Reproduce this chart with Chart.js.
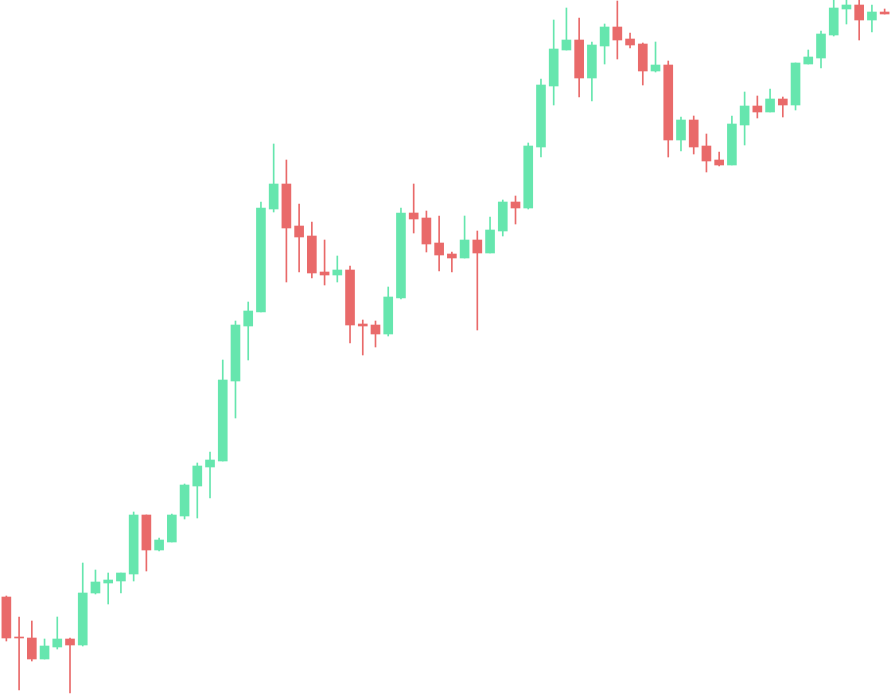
<!DOCTYPE html>
<html>
<head>
<meta charset="utf-8">
<script src="https://cdn.jsdelivr.net/npm/chart.js@4"></script>
<style>
    html, body { margin: 0; padding: 0; background: #ffffff; }
    #wrap { width: 891px; height: 694px; position: relative; }
</style>
</head>
<body>
<div id="wrap"><canvas id="candle-chart"></canvas></div>
<script>
// OHLC per session (arbitrary price units)
const opens  = [97, 57, 56, 35, 47, 55, 49, 101, 111, 113, 120, 179, 144, 152, 178, 208, 227, 233, 313, 368,
                382, 485, 510, 468, 458, 422, 419, 424, 370, 369, 360, 396, 481, 476, 451, 440, 436, 454, 441, 463,
                492, 486, 547, 608, 644, 654, 616, 648, 667, 655, 650, 623, 629, 554, 574, 548, 534, 529, 569, 588,
                582, 595, 589, 630, 636, 659, 685, 689, 674, 682];
const highs  = [98, 77, 73, 55, 77, 56, 131, 124, 121, 121, 182, 179, 156, 180, 210, 231, 242, 334, 373, 392,
                492, 550, 534, 490, 472, 454, 438, 428, 374, 373, 407, 486, 510, 483, 478, 442, 478, 463, 477, 494,
                498, 551, 615, 674, 686, 676, 652, 670, 693, 661, 651, 652, 633, 577, 578, 560, 542, 578, 602, 598,
                605, 597, 631, 644, 663, 694, 694, 694, 689, 685];
const lows   = [53, 4, 33, 35, 45, 1, 48, 100, 90, 101, 113, 123, 143, 152, 175, 176, 196, 233, 276, 334,
                382, 482, 412, 422, 416, 409, 412, 351, 339, 347, 358, 395, 461, 442, 423, 422, 436, 364, 441, 458,
                470, 485, 537, 589, 644, 597, 593, 630, 635, 646, 609, 622, 537, 543, 540, 522, 528, 529, 549, 576,
                582, 577, 584, 630, 626, 658, 670, 654, 662, 680];
const closes = [56, 56, 35, 48, 55, 49, 101, 112, 114, 121, 179, 144, 154, 179, 209, 228, 234, 314, 369, 383,
                486, 510, 466, 457, 421, 419, 424, 369, 368, 360, 397, 481, 475, 450, 439, 436, 454, 441, 464, 492,
                486, 548, 609, 645, 654, 616, 649, 667, 654, 649, 623, 629, 554, 574, 547, 533, 529, 570, 588, 582,
                595, 589, 631, 637, 660, 686, 689, 674, 682, 680];
const sessions = opens.map((_, i) => 'S' + (i + 1));

const upColor = '#66E6AE';
const downColor = '#E96A6A';

function createChart() {
    const ctx = document.getElementById('candle-chart').getContext('2d');
    const colors = opens.map((o, i) => closes[i] >= o ? upColor : downColor);

    new Chart(ctx, {
        type: 'bar',
        data: {
            labels: sessions,
            datasets: [{
                label: 'Body',
                data: opens.map((o, i) => [Math.min(o, closes[i]), Math.max(o, closes[i])]),
                backgroundColor: colors,
                barThickness: 9,
                grouped: false,
                borderWidth: 0
            }, {
                label: 'Wick',
                data: lows.map((l, i) => [l, highs[i]]),
                backgroundColor: colors,
                barThickness: 1,
                grouped: false,
                borderWidth: 0
            }]
        },
        options: {
            responsive: true,
            maintainAspectRatio: false,
            animation: false,
            layout: { padding: 0 },
            plugins: {
                legend: { display: false },
                tooltip: { enabled: false }
            },
            scales: {
                x: { display: false, offset: true },
                y: { display: false, min: 0, max: 694 }
            }
        }
    });
}

document.addEventListener('DOMContentLoaded', createChart);
</script>
</body>
</html>
